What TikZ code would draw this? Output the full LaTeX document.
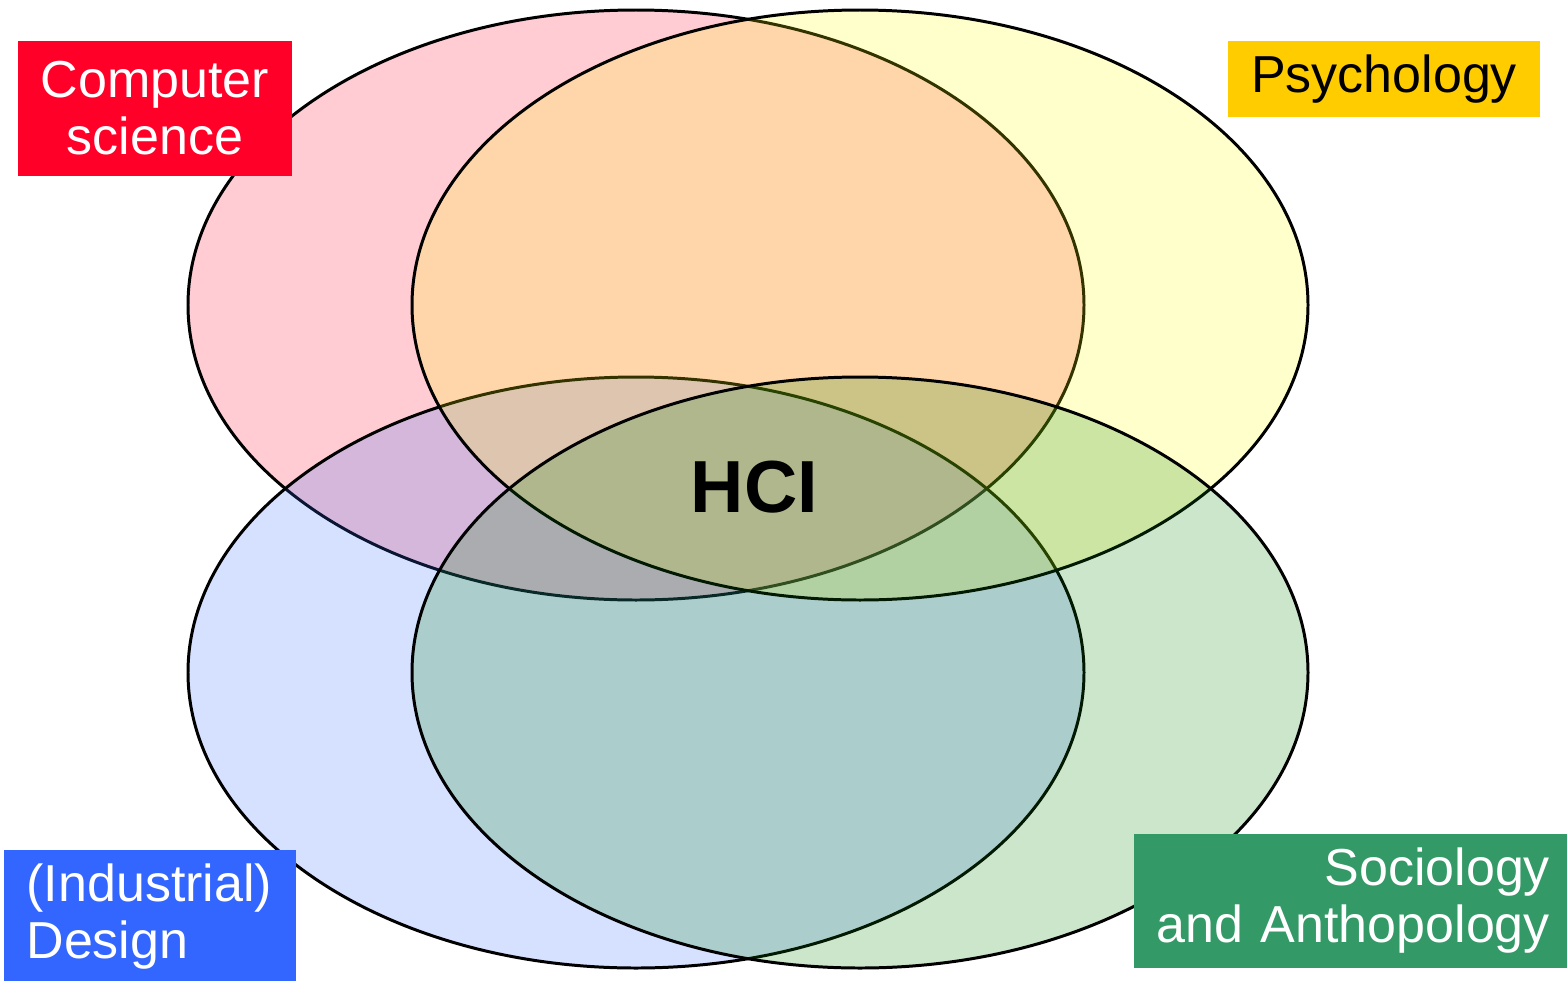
\documentclass[tikz,border=0pt]{standalone}
\usepackage{fontspec}
\setmainfont{Liberation Sans}
\usetikzlibrary{positioning}
\usepackage{xcolor}
\definecolor{csred}{RGB}{255,0,40}
\definecolor{psyyellow}{RGB}{255,204,0}
\definecolor{desblue}{RGB}{51,102,255}
\definecolor{socgreen}{RGB}{51,153,102}
\definecolor{psyfill}{RGB}{255,255,0}
\definecolor{socfill}{RGB}{0,128,0}

\begin{document}
\begin{tikzpicture}[every node/.style={font=\fontsize{14.8}{16.2}\selectfont}, field/.style={line width=0.85pt, draw=black, fill opacity=0.2},
    tag/.style={inner sep=0pt, minimum height=1.34cm}]
    \tikzstyle{hci} = [font=\fontsize{21}{24}\selectfont\bfseries]
    \useasboundingbox (0,0) rectangle (15.67,9.80);

    \filldraw[field, fill=csred] (6.36,6.75) ellipse (4.48 and 2.95);
    \filldraw[field, fill=desblue] (6.36,3.075) ellipse (4.48 and 2.955);
    \filldraw[field, fill=psyfill] (8.60,6.75) ellipse (4.48 and 2.95);
    \filldraw[field, fill=socfill] (8.60,3.075) ellipse (4.48 and 2.955);

    \node[hci] (hci) at (7.545,4.925) {HCI};

    % labels of the four fields
    \node[tag, fill=csred, text=white, minimum width=2.74cm, minimum height=1.35cm, align=center] (cs) at (1.55,8.715) {Computer\\science};
    \node[tag, fill=psyyellow, minimum width=3.12cm, minimum height=0.76cm] (psy) at (13.84,9.01) {Psychology};
    \node[tag, fill=desblue, text=white, inner xsep=0.22cm, text width=2.47cm, align=left] (design) at (1.50,0.63) {(Industrial)\\Design};
    \node[tag, fill=socgreen, text=white, inner xsep=0.22cm, text width=3.94cm, align=right] (socio) at (13.53,0.79) {Sociology\\and Anthopology};

\end{tikzpicture}
\end{document}
